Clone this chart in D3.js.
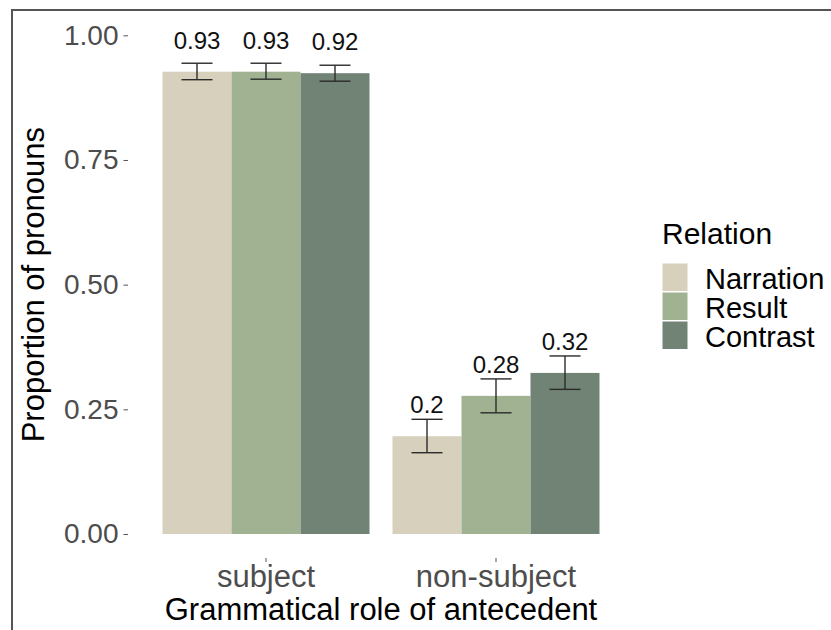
<!DOCTYPE html>
<html>
<head>
<meta charset="utf-8">
<script src="https://cdn.jsdelivr.net/npm/d3@7"></script>
<style>
  body { margin: 0; background: #fff; }
  text { font-family: "Liberation Sans", Arial, sans-serif; }
</style>
</head>
<body>
<svg id="chart" width="831" height="630"></svg>
<script>
// data
var groups = ["subject", "non-subject"];
var relations = ["Narration", "Result", "Contrast"];
var colors = ["#d6d0bc", "#a0b291", "#708374"];

var subjectProp = [0.927, 0.927, 0.924];
var subjectLow = [0.911, 0.912, 0.908];
var subjectHigh = [0.944, 0.944, 0.940];

var nonsubjProp = [0.196, 0.277, 0.323];
var nonsubjLow = [0.163, 0.243, 0.290];
var nonsubjHigh = [0.230, 0.311, 0.357];

var yTicks = [0, 0.25, 0.5, 0.75, 1];

var props = [subjectProp, nonsubjProp];
var lows = [subjectLow, nonsubjLow];
var highs = [subjectHigh, nonsubjHigh];

var rows = [];
groups.forEach(function (g, gi) {
  relations.forEach(function (r, ri) {
    rows.push({group: g, rel: r, v: props[gi][ri], lo: lows[gi][ri], hi: highs[gi][ri]});
  });
});

var svg = d3.select("#chart");

// frame
svg.append("line").attr("x1", 11).attr("x2", 831).attr("y1", 10).attr("y2", 10)
  .attr("stroke", "#555").attr("stroke-width", 2);
svg.append("line").attr("x1", 12).attr("x2", 12).attr("y1", 9).attr("y2", 630)
  .attr("stroke", "#555").attr("stroke-width", 2);

var x0 = d3.scaleBand().domain(groups).range([128, 634])
  .paddingInner(0.1).paddingOuter(0.15);
var x1 = d3.scaleBand().domain(relations).range([0, x0.bandwidth()]);
var y = d3.scaleLinear().domain([0, 1]).range([534, 35.3]);
var col = d3.scaleOrdinal().domain(relations).range(colors);

/// bars
svg.selectAll("rect.bar")
  .data(rows)
  .enter()
  .append("rect")
  .attr("class", "bar")
  .attr("x", d => x0(d.group) + x1(d.rel))
  .attr("y", d => y(d.v))
  .attr("width", x1.bandwidth())
  .attr("height", d => y(0) - y(d.v))
  .attr("fill", d => col(d.rel));

/// error bars
var capW = x1.bandwidth() * 0.45;
var eb = svg.selectAll("g.err")
  .data(rows)
  .enter()
  .append("g")
  .attr("class", "err")
  .attr("transform", d => "translate(" + (x0(d.group) + x1(d.rel) + x1.bandwidth() / 2) + ",0)")
  .attr("stroke", "#2b2b2b")
  .attr("stroke-width", 1.4);
eb.append("line").attr("x1", 0).attr("x2", 0).attr("y1", d => y(d.hi)).attr("y2", d => y(d.lo));
eb.append("line").attr("x1", -capW / 2).attr("x2", capW / 2).attr("y1", d => y(d.hi)).attr("y2", d => y(d.hi));
eb.append("line").attr("x1", -capW / 2).attr("x2", capW / 2).attr("y1", d => y(d.lo)).attr("y2", d => y(d.lo));

/// value labels
svg.selectAll("text.lab")
  .data(rows)
  .enter()
  .append("text")
  .attr("class", "lab")
  .attr("x", d => x0(d.group) + x1(d.rel) + x1.bandwidth() / 2)
  .attr("y", d => y(d.v) - 23)
  .attr("text-anchor", "middle")
  .attr("font-size", "24px")
  .attr("fill", "#111")
  .text(d => String(+d.v.toFixed(2)));

/// y axis
var yAxis = d3.axisLeft(y).tickValues(yTicks).tickSize(4.5).tickPadding(5)
  .tickFormat(d3.format(".2f"));
var gy = svg.append("g").attr("transform", "translate(128,0)").call(yAxis);
gy.select(".domain").remove();
gy.selectAll(".tick line").attr("stroke", "#555");
gy.selectAll(".tick text").attr("fill", "#4d4d4d").attr("font-size", "28px")
  .attr("font-family", "Liberation Sans, Arial, sans-serif");

/// x axis
var xAxis = d3.axisBottom(x0).tickSize(4).tickPadding(3);
var gx = svg.append("g").attr("transform", "translate(0,558)").call(xAxis);
gx.select(".domain").remove();
gx.selectAll(".tick line").attr("stroke", "#555");
gx.selectAll(".tick text").attr("fill", "#4d4d4d").attr("font-size", "31px")
  .attr("font-family", "Liberation Sans, Arial, sans-serif");

/// axis titles
svg.append("text")
  .attr("x", 381).attr("y", 620)
  .attr("text-anchor", "middle")
  .attr("font-size", "31px")
  .attr("fill", "#000")
  .text("Grammatical role of antecedent");
svg.append("text")
  .attr("transform", "translate(44," + y(0.5) + ") rotate(-90)")
  .attr("text-anchor", "middle")
  .attr("font-size", "31px")
  .attr("fill", "#000")
  .text("Proportion of pronouns");

/// legend
var lg = svg.append("g").attr("transform", "translate(662,0)");
lg.append("text").attr("x", 0).attr("y", 244).attr("font-size", "30px").attr("fill", "#000")
  .text("Relation");
var items = lg.selectAll("g.item")
  .data(relations)
  .enter()
  .append("g")
  .attr("class", "item")
  .attr("transform", (d, i) => "translate(0," + (263 + i * 29) + ")");
items.append("rect")
  .attr("width", 26).attr("height", 28.5)
  .attr("fill", d => col(d))
  .attr("stroke", "#fff").attr("stroke-width", 1);
items.append("text")
  .attr("x", 43).attr("y", 25.5)
  .attr("font-size", "29px")
  .attr("fill", "#000")
  .text(d => d);
</script>
</body>
</html>
